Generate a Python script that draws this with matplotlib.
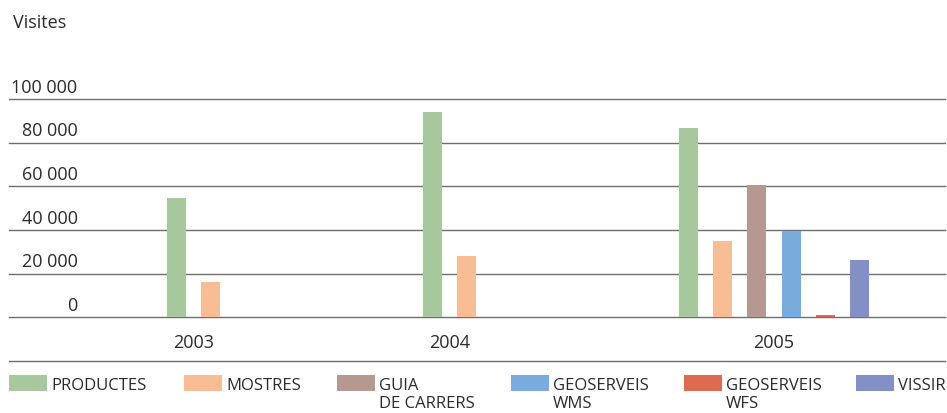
# Visites per servei i any - barres agrupades
import matplotlib
matplotlib.use("Agg")
import matplotlib.pyplot as plt
import matplotlib.patches as mpatches
from matplotlib.lines import Line2D
import numpy as np

plt.rcParams["font.family"] = ["Open Sans", "DejaVu Sans"]

YEARS  = ["2003", "2004", "2005"]
SERIES = ["PRODUCTES", "MOSTRES", "GUIA\nDE CARRERS", "GEOSERVEIS\nWMS", "GEOSERVEIS\nWFS", "VISSIR"]
COLORS = ["#a7c79d", "#f9bd93", "#b59990", "#79acdd", "#df6a4f", "#8390c6"]

# one list per service, values per year (nan = no data that year)
productes  = [54700, 94000, 86700]
mostres    = [16300, 28200, 35000]
guia       = [np.nan, np.nan, 60600]
geo_wms    = [np.nan, np.nan, 39700]
geo_wfs    = [np.nan, np.nan, 1100]
vissir     = [np.nan, np.nan, 26300]

Y_TICKS = [0, 20000, 40000, 60000, 80000, 100000]

TEXT_COLOR = "#2a2a2a"
GRID_COLOR = "#6e6e6e"
W, H = 947, 413

values = np.array([productes, mostres, guia, geo_wms, geo_wfs, vissir], dtype=float)

fig = plt.figure(figsize=(W / 100, H / 100), dpi=100)
fig.patch.set_facecolor("white")
ax_left, ax_width = 9, 936
ax = fig.add_axes([ax_left / W, (H - 317.3) / H, ax_width / W, 218.3 / H])

step  = 34.2 / 256   # distance between bars inside a group
width = 19 / 256
x = np.arange(len(YEARS))

for j, (name, color) in enumerate(zip(SERIES, COLORS)):
    ax.bar(x + j * step, values[j], width=width, color=color,
           align="center", zorder=3, linewidth=0)

ax.set_xlim(-(176.5 - 9) / 256, (945 - 176.5) / 256)
ax.set_ylim(0, 100000)

# gridlines, labels sit just above each line
ax.set_yticks(Y_TICKS)
ax.set_yticklabels([])
ax.grid(axis="y", color=GRID_COLOR, linewidth=1.0)
for gl in ax.get_ygridlines():
    gl.set_clip_on(False)
ax.set_axisbelow(True)
ax.tick_params(axis="both", length=0)
for spine in ax.spines.values():
    spine.set_visible(False)

label_right = (77.5 - ax_left) / ax_width
for v in Y_TICKS:
    ax.annotate(f"{v:,}".replace(",", " "), xy=(label_right, v),
                xycoords=("axes fraction", "data"),
                xytext=(0, 4.6), textcoords="offset points",
                ha="right", va="baseline", fontsize=13, color=TEXT_COLOR)

# year label centred under the bars that exist
centers = []
for i in range(len(YEARS)):
    present = np.where(~np.isnan(values[:, i]))[0]
    centers.append(x[i] + present.mean() * step)
ax.set_xticks(centers)
ax.set_xticklabels(YEARS, fontsize=13, color=TEXT_COLOR)
ax.tick_params(axis="x", pad=12)

fig.text(13 / W, 1 - 28 / H, "Visites", fontsize=13, color=TEXT_COLOR,
         ha="left", va="baseline")

# separator under the axis
fig.add_artist(Line2D([9 / W, 945 / W], [1 - 361 / H, 1 - 361 / H],
                      color=GRID_COLOR, linewidth=1.0))

# legend row
LEGEND_X = [9, 184, 337, 511, 684, 856]
for lx, name, color in zip(LEGEND_X, SERIES, COLORS):
    fig.add_artist(mpatches.Rectangle((lx / W, 1 - 391 / H), 38 / W, 16 / H,
                                      transform=fig.transFigure,
                                      facecolor=color, edgecolor="none"))
    lines = name.split("\n")
    for k, line in enumerate(lines):
        fig.text((lx + 42) / W, 1 - (390 + 18.5 * k) / H, line,
                 fontsize=12, color=TEXT_COLOR, ha="left", va="baseline")

fig.savefig("out.png", dpi=100, facecolor="white")
